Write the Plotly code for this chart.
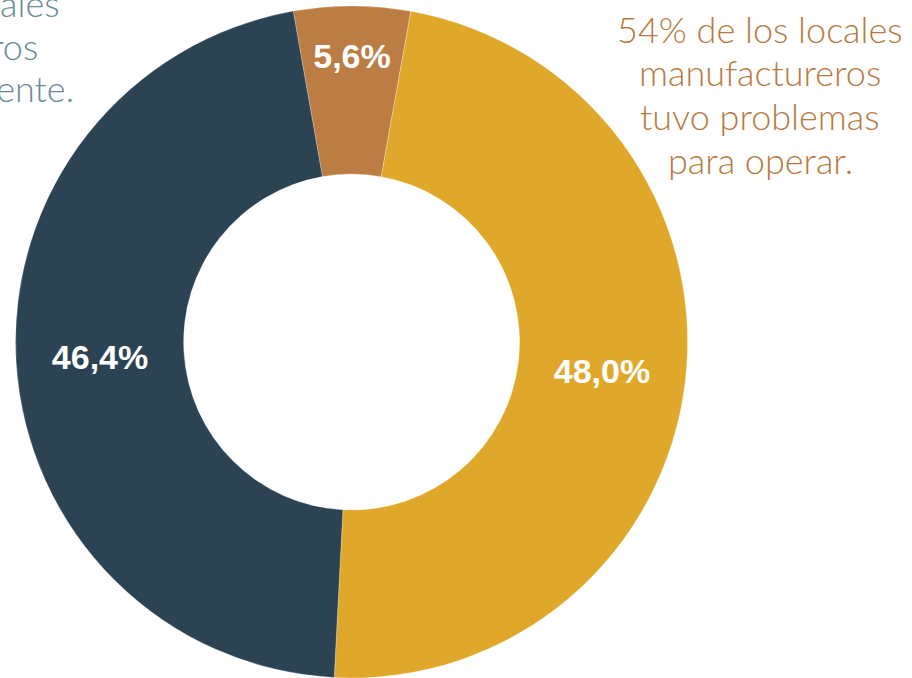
import plotly.graph_objects as go

categories = ["Operó parcialmente", "Tuvo problemas para operar", "Operó normalmente"]
values = [5.6, 48.0, 46.4]
colors = ["#BB7D43", "#DFA82B", "#2C4354"]

right_note = ["54% de los locales", "manufactureros", "tuvo problemas", "para operar."]
left_note = ["46% de los locales", "manufactureros", "operó normalmente."]

W, H = 912, 678

fig = go.Figure(go.Pie(
    labels=categories,
    values=values,
    hole=0.5,
    sort=False,
    direction="clockwise",
    rotation=-10,
    marker=dict(colors=colors, line=dict(color="rgba(255,255,255,0.5)", width=0.5)),
    textinfo="value",
    texttemplate="%{value:.1f}%",
    textposition="inside",
    insidetextorientation="horizontal",
    textfont=dict(family="Arial, Liberation Sans, sans-serif", size=34, color="white", weight="bold"),
    hoverinfo="none",
    domain=dict(x=[0, 0.771], y=[0, 1]),
))

note_font = "Lato, sans-serif"
annotations = []
for i, line in enumerate(right_note):
    annotations.append(dict(
        text=line, x=760 / W, y=1 - (23 + 44 * i) / H, xref="paper", yref="paper",
        xanchor="center", yanchor="middle", showarrow=False,
        font=dict(family=note_font, size=36, color="#B87A40", weight=300),
    ))
for i, line in enumerate(left_note):
    annotations.append(dict(
        text=line, x=-83 / W, y=1 - (-3 + 43 * i) / H, xref="paper", yref="paper",
        xanchor="center", yanchor="middle", showarrow=False,
        font=dict(family=note_font, size=36, color="#6A8B98", weight=300),
    ))

fig.update_layout(
    width=W, height=H,
    margin=dict(l=0, r=0, t=6, b=0),
    paper_bgcolor="white", plot_bgcolor="white",
    showlegend=False,
    separators=",.",
    annotations=annotations,
)

fig.write_html(
    "out.html",
    config={"displayModeBar": False},
    post_script="document.body.style.margin='0';document.body.style.overflow='hidden';",
)
